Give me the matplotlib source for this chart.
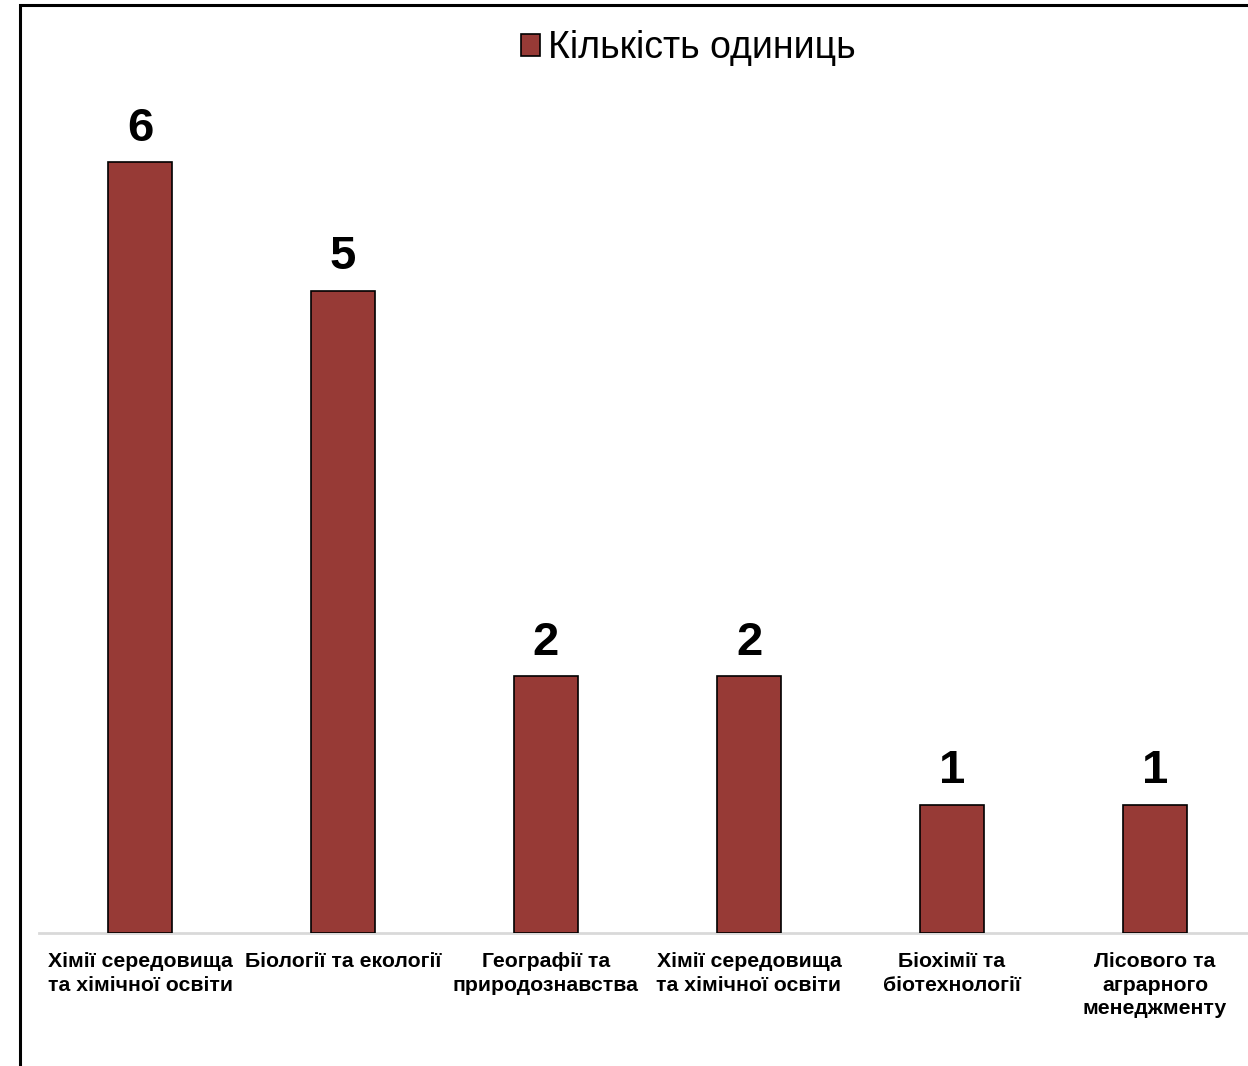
import numpy as np
import matplotlib.pyplot as plt
from matplotlib.patches import Rectangle

plt.rcParams['font.family'] = ['Liberation Sans', 'DejaVu Sans']

categories = ["Хімії середовища\nта хімічної освіти",
              "Біології та екології",
              "Географії та\nприродознавства",
              "Хімії середовища\nта хімічної освіти",
              "Біохімії та\nбіотехнології",
              "Лісового та\nаграрного\nменеджменту"]
values = [6, 5, 2, 2, 1, 1]
series_name = "Кількість одиниць"

W, H = 1248, 1066
fig = plt.figure(figsize=(W / 100, H / 100), dpi=100)

# plot area runs past the right edge of the picture, as in the source
left, right = 38.5, 1256.5
bottom, top = 933, 33.5
ax = fig.add_axes([left / W, 1 - bottom / H, (right - left) / W, (bottom - top) / H])

x = np.arange(len(values))
bars = ax.bar(x, values, width=0.315, color='#973A36', edgecolor='black',
              linewidth=1.2, label=series_name, zorder=3)
ax.bar_label(bars, padding=8, fontsize=34, fontweight='bold')

ax.set_xlim(-0.5, len(values) - 0.5)
ax.set_ylim(0, 7)
ax.set_xticks(x)
ax.set_xticklabels(categories, fontsize=15.3, fontweight='bold', linespacing=1.28)
ax.tick_params(axis='x', length=0, pad=14)
ax.set_yticks([])
for s in ['top', 'right', 'left']:
    ax.spines[s].set_visible(False)
ax.spines['bottom'].set_color('#D9D9D9')
ax.spines['bottom'].set_linewidth(2)
ax.spines['bottom'].set_zorder(2)

leg = ax.legend(loc='center', bbox_to_anchor=(688 / W, 1 - 48 / H),
                bbox_transform=fig.transFigure, frameon=False, fontsize=27,
                handlelength=0.52, handleheight=0.52, handletextpad=0.2)

# outer chart frame (left and top edges visible)
fig.patches.append(Rectangle((20 / W, -0.1), 1.2, 1.1 - 5 / H,
                             transform=fig.transFigure, fill=False,
                             edgecolor='black', linewidth=2.2))

fig.savefig('out.png', dpi=100)
